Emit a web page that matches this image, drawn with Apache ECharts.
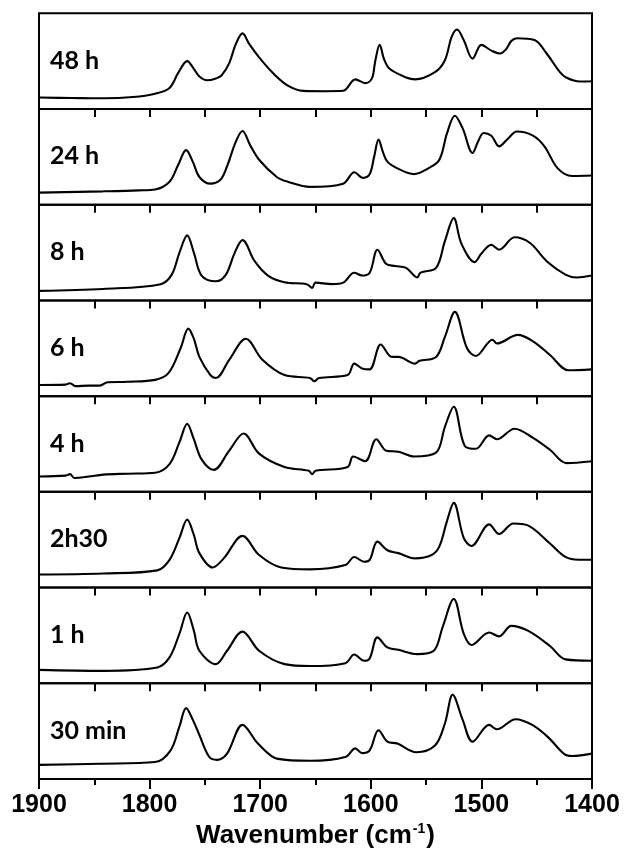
<!DOCTYPE html>
<html>
<head>
<meta charset="utf-8">
<script src="https://cdn.jsdelivr.net/npm/echarts@6/dist/echarts.min.js"></script>
<style>html,body{margin:0;padding:0;background:#fff}#c{width:625px;height:852px}</style>
</head>
<body>
<div id="c"></div>
<script>
// Panel labels (top to bottom)
const panelLabels = ['48 h', '24 h', '8 h', '6 h', '4 h', '2h30', '1 h', '30 min'];
// X axis tick labels
const xTicks = [1900, 1800, 1700, 1600, 1500, 1400];
const axisTitle = 'Wavenumber (cm';
const axisTitleSup = '-1';

// Spectra: [wavenumber, relative absorbance within panel (0..1)]
const s48h = [[1900,0.12],[1870,0.115],[1842,0.112],[1815,0.125],[1795,0.16],[1782,0.22],[1774,0.38],[1766,0.50],[1760,0.42],[1755,0.34],[1748,0.30],[1740,0.32],[1735,0.35],[1728,0.48],[1722,0.68],[1716,0.79],[1710,0.68],[1701,0.54],[1688,0.37],[1675,0.245],[1661,0.19],[1641,0.186],[1625,0.19],[1614,0.31],[1605,0.27],[1599,0.32],[1596,0.50],[1592,0.67],[1588,0.52],[1583,0.42],[1568,0.33],[1560,0.31],[1542,0.385],[1533,0.51],[1527,0.75],[1522,0.83],[1516,0.72],[1508,0.526],[1500,0.67],[1491,0.61],[1483,0.58],[1478,0.62],[1473,0.71],[1468,0.74],[1452,0.72],[1441,0.58],[1429,0.385],[1423,0.326],[1411,0.287],[1400,0.29]];
const s24h = [[1900,0.126],[1842,0.14],[1810,0.15],[1795,0.16],[1782,0.24],[1774,0.42],[1767,0.57],[1761,0.45],[1755,0.29],[1745,0.22],[1736,0.26],[1730,0.40],[1722,0.66],[1716,0.77],[1709,0.62],[1701,0.47],[1685,0.29],[1675,0.24],[1655,0.186],[1625,0.22],[1615,0.34],[1607,0.28],[1601,0.32],[1597,0.50],[1593,0.68],[1589,0.55],[1585,0.45],[1576,0.38],[1561,0.32],[1548,0.38],[1538,0.47],[1531,0.75],[1524,0.93],[1517,0.80],[1508,0.54],[1503,0.66],[1498,0.75],[1491,0.72],[1484,0.61],[1476,0.69],[1468,0.765],[1453,0.72],[1443,0.61],[1431,0.38],[1418,0.30],[1400,0.305]];
const s8h = [[1900,0.10],[1842,0.12],[1790,0.17],[1780,0.27],[1773,0.50],[1766,0.68],[1760,0.50],[1753,0.26],[1740,0.20],[1731,0.27],[1723,0.50],[1716,0.63],[1705,0.41],[1693,0.26],[1678,0.19],[1658,0.17],[1653,0.13],[1650,0.186],[1635,0.17],[1625,0.186],[1615,0.29],[1608,0.26],[1601,0.29],[1594,0.53],[1586,0.38],[1578,0.36],[1568,0.34],[1558,0.24],[1555,0.29],[1541,0.34],[1533,0.62],[1525,0.86],[1518,0.59],[1506,0.40],[1500,0.49],[1491,0.58],[1484,0.53],[1470,0.66],[1456,0.60],[1441,0.41],[1424,0.27],[1414,0.24],[1400,0.26]];
const s6h = [[1900,0.116],[1876,0.12],[1872,0.135],[1867,0.105],[1855,0.11],[1845,0.11],[1838,0.145],[1820,0.15],[1795,0.17],[1783,0.24],[1772,0.50],[1765,0.705],[1760,0.60],[1755,0.41],[1745,0.22],[1740,0.19],[1728,0.38],[1713,0.60],[1698,0.38],[1678,0.22],[1655,0.19],[1651,0.155],[1647,0.19],[1621,0.22],[1615,0.34],[1608,0.29],[1601,0.28],[1591,0.54],[1581,0.41],[1575,0.41],[1560,0.34],[1556,0.37],[1541,0.41],[1533,0.62],[1524,0.88],[1513,0.50],[1505,0.42],[1490,0.59],[1486,0.55],[1467,0.64],[1453,0.57],[1438,0.43],[1421,0.27],[1400,0.28]];
const s4h = [[1900,0.16],[1876,0.17],[1872,0.185],[1868,0.145],[1855,0.16],[1842,0.18],[1820,0.19],[1795,0.20],[1782,0.29],[1773,0.52],[1766,0.71],[1760,0.55],[1753,0.34],[1742,0.23],[1728,0.43],[1715,0.61],[1701,0.40],[1678,0.26],[1656,0.22],[1653,0.185],[1650,0.22],[1621,0.26],[1616,0.37],[1605,0.32],[1595,0.55],[1586,0.43],[1575,0.42],[1561,0.37],[1541,0.41],[1533,0.68],[1525,0.89],[1515,0.48],[1505,0.45],[1493,0.59],[1486,0.55],[1470,0.66],[1454,0.57],[1438,0.44],[1423,0.30],[1400,0.32]];
const s2h30 = [[1900,0.137],[1842,0.147],[1793,0.18],[1782,0.29],[1773,0.52],[1766,0.71],[1760,0.55],[1755,0.36],[1743,0.21],[1733,0.305],[1716,0.54],[1701,0.34],[1681,0.21],[1655,0.19],[1623,0.235],[1615,0.32],[1606,0.27],[1601,0.29],[1594,0.48],[1585,0.39],[1575,0.36],[1560,0.305],[1545,0.34],[1538,0.43],[1531,0.70],[1525,0.885],[1516,0.52],[1509,0.435],[1493,0.66],[1484,0.56],[1471,0.67],[1458,0.65],[1438,0.46],[1424,0.32],[1412,0.29],[1400,0.29]];
const s1h = [[1900,0.14],[1842,0.13],[1793,0.165],[1782,0.27],[1773,0.52],[1766,0.74],[1760,0.55],[1755,0.34],[1740,0.20],[1730,0.34],[1716,0.54],[1701,0.34],[1678,0.20],[1655,0.18],[1623,0.21],[1615,0.30],[1606,0.235],[1601,0.26],[1594,0.48],[1585,0.375],[1575,0.35],[1558,0.305],[1543,0.34],[1535,0.59],[1525,0.88],[1516,0.52],[1509,0.40],[1493,0.53],[1484,0.49],[1473,0.60],[1458,0.55],[1438,0.39],[1424,0.25],[1400,0.235]];
const s30min = [[1900,0.148],[1845,0.16],[1795,0.177],[1781,0.30],[1773,0.55],[1767,0.74],[1761,0.62],[1755,0.46],[1746,0.23],[1739,0.20],[1730,0.265],[1716,0.565],[1702,0.37],[1684,0.21],[1655,0.19],[1623,0.23],[1614,0.32],[1608,0.27],[1601,0.30],[1593,0.51],[1585,0.39],[1576,0.37],[1559,0.28],[1542,0.35],[1533,0.58],[1526,0.88],[1517,0.62],[1508,0.39],[1493,0.565],[1486,0.52],[1469,0.625],[1454,0.565],[1440,0.44],[1425,0.26],[1418,0.24],[1400,0.265]];

const spectra = [s48h, s24h, s8h, s6h, s4h, s2h30, s1h, s30min];

const chart = echarts.init(document.getElementById('c'), null, {renderer: 'canvas'});
const top0 = 13.3, bottom0 = 779, left = 39, right = 592;
const ph = (bottom0 - top0) / spectra.length;
const grids = [], xAxes = [], yAxes = [], series = [], graphics = [];
spectra.forEach((d, i) => {
  const last = i === spectra.length - 1;
  grids.push({left: left, width: right - left, top: top0 + i * ph, height: ph,
    show: true, borderColor: '#000', borderWidth: 2, backgroundColor: 'transparent', containLabel: false});
  xAxes.push({type: 'value', gridIndex: i, min: 1400, max: 1900, inverse: true,
    interval: last ? 100 : 50,
    axisLine: {show: false},
    axisTick: {show: true, inside: false, length: last ? 10 : 8, lineStyle: {color: '#000', width: 2}},
    minorTick: {show: last, splitNumber: 2, length: 6, lineStyle: {color: '#000', width: 2}},
    splitLine: {show: false},
    axisLabel: {show: last, margin: 14, color: '#000', fontFamily: 'Liberation Sans', fontWeight: 'bold', fontSize: 25,
      formatter: v => xTicks.includes(v) ? String(v) : ''},
    name: last ? '{a|' + axisTitle + '}{s|' + axisTitleSup + '}{a|)}' : '',
    nameLocation: 'middle', nameGap: 43,
    nameTextStyle: {rich: {
      a: {fontFamily: 'Liberation Sans', fontWeight: 'bold', fontSize: 26, color: '#000'},
      s: {fontFamily: 'Liberation Sans', fontWeight: 'bold', fontSize: 14, color: '#000', verticalAlign: 'top', padding: [0, 1, 14, 1]}
    }}
  });
  yAxes.push({type: 'value', gridIndex: i, min: 0, max: 1, show: false});
  series.push({type: 'line', xAxisIndex: i, yAxisIndex: i, data: d, showSymbol: false, smooth: 0.35,
    lineStyle: {color: '#000', width: 2.1}, silent: true, animation: false});
  graphics.push({type: 'text', left: 50, top: top0 + i * ph + ph / 2 - 13,
    style: {text: panelLabels[i], font: 'bold 25px Lato', fill: '#000'}});
});
chart.setOption({animation: false, grid: grids, xAxis: xAxes, yAxis: yAxes, series: series, graphic: graphics});
</script>
</body>
</html>
